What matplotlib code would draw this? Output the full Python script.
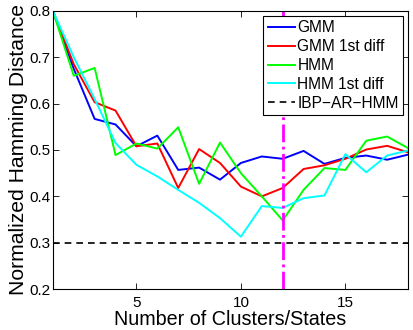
import matplotlib
matplotlib.use("Agg")
import matplotlib.pyplot as plt

plt.rcParams['font.family'] = ['Liberation Sans', 'DejaVu Sans']

states = list(range(1, 19))
gmm = [0.80, 0.675, 0.567, 0.555, 0.508, 0.531, 0.457, 0.462, 0.436, 0.472,
       0.486, 0.481, 0.498, 0.470, 0.483, 0.488, 0.479, 0.490]
gmm_diff = [0.80, 0.685, 0.603, 0.585, 0.508, 0.514, 0.418, 0.502, 0.472, 0.421,
            0.400, 0.418, 0.459, 0.467, 0.481, 0.501, 0.509, 0.495]
hmm = [0.80, 0.660, 0.677, 0.489, 0.514, 0.503, 0.549, 0.427, 0.516, 0.450,
       0.400, 0.348, 0.414, 0.461, 0.457, 0.520, 0.529, 0.504]
hmm_diff = [0.80, 0.700, 0.610, 0.515, 0.468, 0.443, 0.414, 0.386, 0.353, 0.313,
            0.379, 0.375, 0.396, 0.402, 0.491, 0.452, 0.488, 0.499]
ibp_ar_hmm = 0.30
best_k = 12
labels = ['GMM', 'GMM 1st diff', 'HMM', 'HMM 1st diff', 'IBP\u2212AR\u2212HMM']

fig = plt.figure(figsize=(4.13, 3.30), dpi=100)
ax = fig.add_axes([0.128, 0.124, 0.86, 0.843])

lw = 1.4
ax.plot(states, gmm, color=(0, 0, 1), lw=lw, label=labels[0])
ax.plot(states, gmm_diff, color=(1, 0, 0), lw=lw, label=labels[1])
ax.plot(states, hmm, color=(0, 1, 0), lw=lw, label=labels[2])
ax.plot(states, hmm_diff, color=(0, 1, 1), lw=lw, label=labels[3])
ax.axhline(ibp_ar_hmm, color='black', lw=1.2, ls=(0, (4, 3)), label=labels[4])
ax.axvline(best_k, color=(1, 0, 1), lw=2, ls='-.')

ax.set_xlim(1, 18)
ax.set_ylim(0.2, 0.8)
ax.set_xticks([5, 10, 15])
ax.set_yticks([0.2, 0.3, 0.4, 0.5, 0.6, 0.7, 0.8])
ax.tick_params(direction='in', top=True, right=True, labelsize=11, length=4, width=0.6)
ax.tick_params(axis='y', pad=2)
ax.tick_params(axis='x', pad=5)
for s in ax.spines.values():
    s.set_linewidth(0.8)
ax.set_xlabel('Number of Clusters/States', fontsize=14.2, labelpad=0)
ax.set_ylabel('Normalized Hamming Distance', fontsize=15.2, labelpad=1)

leg = ax.legend(loc='upper right', fontsize=11.2, frameon=True, fancybox=False,
                framealpha=1, handlelength=1.75, handletextpad=0.15, borderpad=0.3,
                labelspacing=0.25, borderaxespad=0.3)
leg.get_frame().set_edgecolor('black')
leg.get_frame().set_linewidth(0.8)
leg.set_zorder(10)

fig.savefig('out.png', dpi=100)
